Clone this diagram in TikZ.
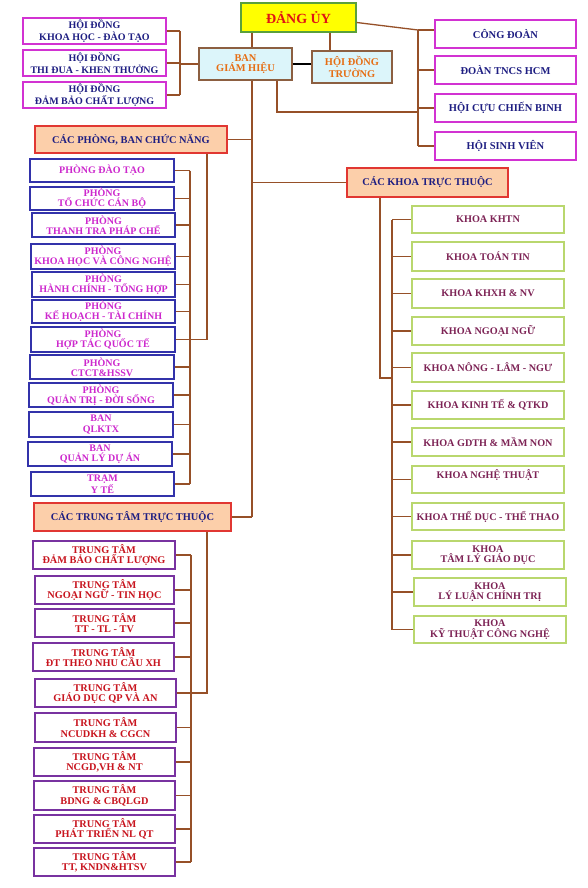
\documentclass[tikz,border=0pt]{standalone}
\usepackage{fontspec}
\setmainfont{Liberation Serif}
\usetikzlibrary{calc}
\definecolor{brn}{RGB}{150,80,40}
\definecolor{navy}{RGB}{30,30,130}
\definecolor{mag}{RGB}{205,40,205}
\definecolor{magb}{RGB}{210,50,210}
\definecolor{pblue}{RGB}{50,50,170}
\definecolor{tpurp}{RGB}{120,50,160}
\definecolor{tred}{RGB}{200,20,30}
\definecolor{kgreen}{RGB}{185,215,110}
\definecolor{ktext}{RGB}{125,35,85}
\definecolor{peach}{RGB}{252,207,170}
\definecolor{hred}{RGB}{225,55,50}
\definecolor{cyanf}{RGB}{220,245,250}
\definecolor{bgbrd}{RGB}{140,95,65}
\definecolor{orng}{RGB}{230,110,20}
\definecolor{duy}{RGB}{255,255,0}
\definecolor{dgreen}{RGB}{90,160,60}
\definecolor{dred}{RGB}{225,20,20}
\newcommand\mkbox[7]{\node[#1, minimum width={(#5-#3)*1pt}, minimum height={(#6-#4)*1pt}] (#2) at ({(#3+#5)/2},{(#4+#6)/2}) {#7};}
\begin{document}
\begin{tikzpicture}[x=1pt,y=-1pt,
  box/.style={draw, fill=white, inner sep=0pt, align=center, line width=1.4pt, font=\fontsize{10}{10.3}\selectfont\bfseries},
  dangbox/.style={box, fill=duy, draw=dgreen, text=dred, font=\fontsize{14}{14}\selectfont\bfseries},
  bghbox/.style={box, fill=cyanf, draw=bgbrd, text=orng, line width=1.3pt, font=\fontsize{10.4}{10.3}\selectfont\bfseries},
  hdbox/.style={box, draw=magb, text=navy, line width=1.2pt},
  orgbox/.style={box, draw=magb, text=navy, line width=1.5pt, font=\fontsize{10.5}{10.3}\selectfont\bfseries},
  headbox/.style={box, fill=peach, draw=hred, text=navy, line width=1.4pt, font=\fontsize{10.4}{10.3}\selectfont\bfseries},
  phbox/.style={box, draw=pblue, text=mag, line width=1.5pt},
  ttbox/.style={box, draw=tpurp, text=tred, line width=1.5pt, font=\fontsize{10.3}{10.3}\selectfont\bfseries},
  kbox/.style={box, draw=kgreen, text=ktext, line width=1.5pt, font=\fontsize{10.2}{10.3}\selectfont\bfseries},
  conn/.style={draw=brn, line width=1.3pt},
  bconn/.style={draw=black, line width=1.3pt}]
\useasboundingbox[fill=white] (0,0) rectangle (588,888);

% columns / junction coordinates
\coordinate (trunk) at (252,0);
\coordinate (xhdt) at (330,0);
\coordinate (xbgh) at (277,0);
\coordinate (busH) at (180,0);
\coordinate (busRtop) at (418,30);
\coordinate (rbend) at (418,112);
\coordinate (xP) at (207,0);
\coordinate (busP) at (190,0);
\coordinate (busT) at (191,0);
\coordinate (xK) at (380,0);
\coordinate (kjoin) at (392,378);

% top level
\mkbox{dangbox}{du}{241}{3}{356}{32}{ĐẢNG ỦY}
\mkbox{bghbox}{bgh}{199}{48}{292}{80}{BAN\\GIÁM HIỆU}
\mkbox{bghbox}{hdt}{312}{51}{392}{83}{HỘI ĐỒNG\\TRƯỜNG}

% councils
\mkbox{hdbox}{hd1}{23}{18}{166}{44}{HỘI ĐỒNG\\KHOA HỌC - ĐÀO TẠO}
\mkbox{hdbox}{hd2}{23}{50}{166}{76}{HỘI ĐỒNG\\THI ĐUA - KHEN THƯỞNG}
\mkbox{hdbox}{hd3}{23}{82}{166}{108}{HỘI ĐỒNG\\ĐẢM BẢO CHẤT LƯỢNG}

% organisations
\mkbox{orgbox}{cd}{435}{20}{576}{48}{CÔNG ĐOÀN}
\mkbox{orgbox}{dtn}{435}{56}{576}{84}{ĐOÀN TNCS HCM}
\mkbox{orgbox}{ccb}{435}{94}{576}{122}{HỘI CỰU CHIẾN BINH}
\mkbox{orgbox}{hsv}{435}{132}{576}{160}{HỘI SINH VIÊN}

% heads
\mkbox{headbox}{cp}{35}{126}{227}{153}{CÁC PHÒNG, BAN CHỨC NĂNG}
\mkbox{headbox}{ck}{347}{168}{508}{197}{CÁC KHOA TRỰC THUỘC}
\mkbox{headbox}{ct}{34}{503}{231}{531}{CÁC TRUNG TÂM TRỰC THUỘC}

% phong
\mkbox{phbox}{p1}{30}{159}{174}{182}{PHÒNG ĐÀO TẠO}
\mkbox{phbox}{p2}{30}{187}{174}{210}{PHÒNG\\TỔ CHỨC CÁN BỘ}
\mkbox{phbox}{p3}{32}{213}{175}{237}{PHÒNG\\THANH TRA PHÁP CHẾ}
\mkbox{phbox}{p4}{31}{244}{175}{269}{PHÒNG\\KHOA HỌC VÀ CÔNG NGHỆ}
\mkbox{phbox}{p5}{32}{272}{175}{297}{PHÒNG\\HÀNH CHÍNH - TỔNG HỢP}
\mkbox{phbox}{p6}{32}{300}{175}{323}{PHÒNG\\KẾ HOẠCH - TÀI CHÍNH}
\mkbox{phbox}{p7}{31}{327}{175}{352}{PHÒNG\\HỢP TÁC QUỐC TẾ}
\mkbox{phbox}{p8}{30}{355}{174}{379}{PHÒNG\\CTCT\&HSSV}
\mkbox{phbox}{p9}{29}{383}{173}{407}{PHÒNG\\QUẢN TRỊ - ĐỜI SỐNG}
\mkbox{phbox}{p10}{29}{412}{173}{437}{BAN\\QLKTX}
\mkbox{phbox}{p11}{28}{442}{172}{466}{BAN\\QUẢN LÝ DỰ ÁN}
\mkbox{phbox}{p12}{31}{472}{174}{496}{TRẠM\\Y TẾ}

% trung tam
\mkbox{ttbox}{t1}{33}{541}{175}{569}{TRUNG TÂM\\ĐẢM BẢO CHẤT LƯỢNG}
\mkbox{ttbox}{t2}{35}{576}{174}{604}{TRUNG TÂM\\NGOẠI NGỮ - TIN HỌC}
\mkbox{ttbox}{t3}{35}{609}{174}{637}{TRUNG TÂM\\TT - TL - TV}
\mkbox{ttbox}{t4}{33}{643}{174}{671}{TRUNG TÂM\\ĐT THEO NHU CẦU XH}
\mkbox{ttbox}{t5}{35}{679}{176}{707}{TRUNG TÂM\\GIÁO DỤC QP VÀ AN}
\mkbox{ttbox}{t6}{35}{713}{176}{742}{TRUNG TÂM\\NCUDKH \& CGCN}
\mkbox{ttbox}{t7}{34}{748}{175}{776}{TRUNG TÂM\\NCGD,VH \& NT}
\mkbox{ttbox}{t8}{34}{781}{175}{810}{TRUNG TÂM\\BDNG \& CBQLGD}
\mkbox{ttbox}{t9}{34}{815}{175}{843}{TRUNG TÂM\\PHÁT TRIỂN NL QT}
\mkbox{ttbox}{t10}{34}{848}{175}{876}{TRUNG TÂM\\TT, KNDN\&HTSV}

% khoa
\mkbox{kbox}{k1}{412}{206}{564}{233}{KHOA KHTN}
\mkbox{kbox}{k2}{412}{242}{564}{271}{KHOA TOÁN TIN}
\mkbox{kbox}{k3}{412}{279}{564}{308}{KHOA KHXH \& NV}
\mkbox{kbox}{k4}{412}{317}{564}{345}{KHOA NGOẠI NGỮ}
\mkbox{kbox}{k5}{412}{353}{564}{382}{KHOA NÔNG - LÂM - NGƯ}
\mkbox{kbox}{k6}{412}{391}{564}{419}{KHOA KINH TẾ \& QTKD}
\mkbox{kbox}{k7}{412}{428}{564}{456}{KHOA GDTH \& MẦM NON}
\mkbox{kbox}{k8}{412}{466}{564}{493}{KHOA NGHỆ THUẬT\\\mbox{}}
\mkbox{kbox}{k9}{412}{503}{564}{530}{KHOA THỂ DỤC - THỂ THAO}
\mkbox{kbox}{k10}{412}{541}{564}{569}{KHOA\\TÂM LÝ GIÁO DỤC}
\mkbox{kbox}{k11}{414}{578}{566}{606}{KHOA\\LÝ LUẬN CHÍNH TRỊ}
\mkbox{kbox}{k12}{414}{616}{566}{643}{KHOA\\KỸ THUẬT CÔNG NGHỆ}

% top connectors
\draw[conn] (du.south -| trunk) -- (bgh.north -| trunk);
\draw[conn] (du.south -| xhdt) -- (hdt.north -| xhdt);
\draw[bconn] (bgh.east) -- (bgh.east -| hdt.west);
\draw[conn] (bgh.south -| trunk) -- (ct.east -| trunk);
% councils
\draw[conn] (hd1.east -| busH) -- (hd3.east -| busH);
\foreach \n in {hd1,hd2,hd3} \draw[conn] (\n.east) -- (\n.east -| busH);
\draw[conn] (busH |- bgh.west) -- (bgh.west);
% organisations
\draw[conn] ([yshift=-5pt]du.east) -- (busRtop);
\draw[conn] (busRtop) -- (busRtop |- hsv.west);
\draw[conn] (busRtop) -- (busRtop -| cd.west);
\foreach \n in {dtn,ccb,hsv} \draw[conn] (\n.west -| busRtop) -- (\n.west);
\draw[conn] (bgh.south -| xbgh) |- (rbend);
% heads
\draw[conn] (trunk |- cp.east) -- (cp.east);
\draw[conn] (trunk |- ck.west) -- (ck.west);
\draw[conn] (trunk |- ct.east) -- (ct.east);
% phong
\draw[conn] (p1.east -| busP) -- (p12.east -| busP);
\foreach \n in {p1,p2,p3,p4,p5,p6,p7,p8,p9,p10,p11,p12} \draw[conn] (\n.east) -- (\n.east -| busP);
\draw[conn] (cp.south -| xP) |- (p7.east -| busP);
% trung tam
\draw[conn] (t1.east -| busT) -- (t10.east -| busT);
\foreach \n in {t1,t2,t3,t4,t5,t6,t7,t8,t9,t10} \draw[conn] (\n.east) -- (\n.east -| busT);
\draw[conn] (ct.south -| xP) |- (t5.east -| busT);
% khoa
\draw[conn] (k1.west -| kjoin) -- (k12.west -| kjoin);
\foreach \n in {k1,k2,k3,k4,k5,k6,k7,k8,k9,k10,k11,k12} \draw[conn] (\n.west -| kjoin) -- (\n.west);
\draw[conn] (ck.south -| xK) |- (kjoin);
\end{tikzpicture}
\end{document}
